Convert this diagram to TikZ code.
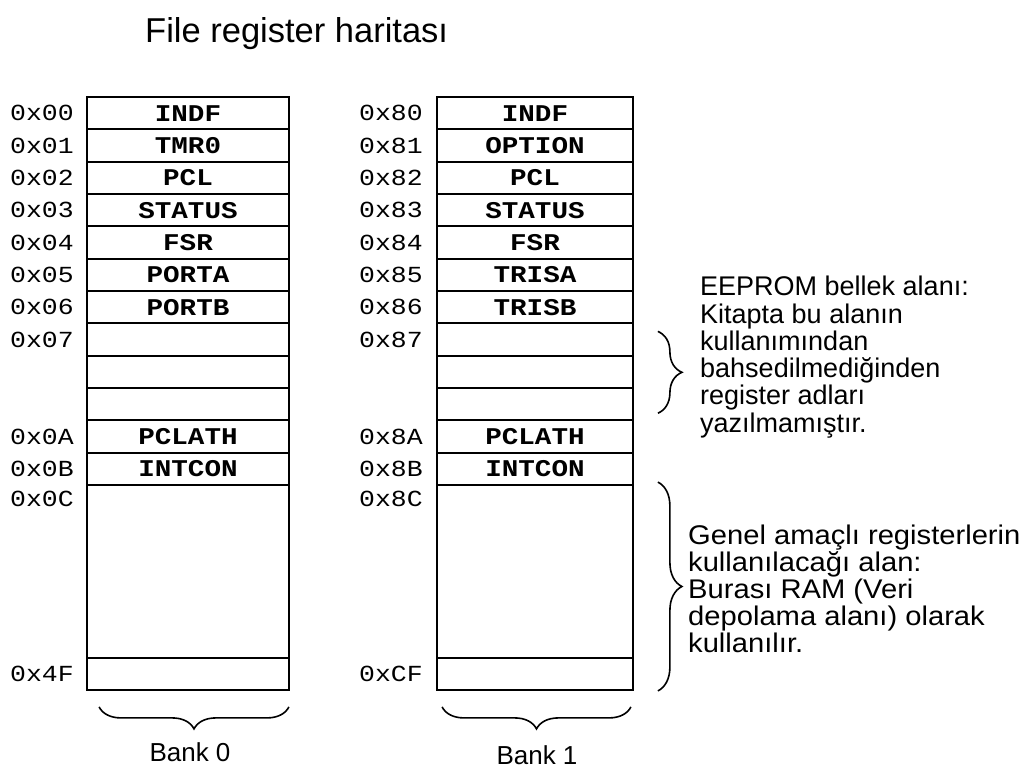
\documentclass[tikz,border=0pt]{standalone}
\usepackage{fontspec}
\setmainfont{Liberation Sans}
\newfontfamily\regfont[FakeStretch=1.15]{Liberation Mono}
\newfontfamily\widesans[FakeStretch=1.08]{Liberation Sans}
\usetikzlibrary{decorations.pathreplacing,calc}
\begin{document}
\begin{tikzpicture}[x=1pt,y=-1pt,
  cell/.style={draw, line width=1.8pt, inner sep=0pt, minimum height=32.33pt,
    font=\regfont\bfseries\fontsize{24}{24}\selectfont},
  addr/.style={anchor=west, inner sep=0pt, font=\regfont\fontsize{23}{23}\selectfont},
  note/.style={anchor=north west, align=left, inner sep=0pt, font=\fontsize{27}{27.3}\selectfont},
  bankbrace/.style={decorate, line width=1.6pt, decoration={brace, mirror, amplitude=22pt}},
  sidebrace/.style={decorate, line width=1.6pt, decoration={brace, amplitude=24pt}},
  banklabel/.style={inner sep=0pt, font=\fontsize{26}{26}\selectfont}
]
\useasboundingbox (0,0) rectangle (1034,774);

% title
\node[anchor=base west, inner sep=0pt, font=\fontsize{34.5}{34.5}\selectfont] (title) at (145,42) {File register haritası};

% Bank 0
\foreach \t [count=\i from 0] in {INDF,TMR0,PCL,STATUS,FSR,PORTA,PORTB,{},{},{},PCLATH,INTCON}
  \node[cell, minimum width=202pt] (a\i) at (188,{113.17+32.33*\i}) {\t};
\node[cell, minimum width=202pt, minimum height=173pt] (abig) at (188,571.5) {};
\node[cell, minimum width=202pt, minimum height=32pt] (alast) at (188,674) {};
\foreach \t/\i in {0x00/0,0x01/1,0x02/2,0x03/3,0x04/4,0x05/5,0x06/6,0x07/7,0x0A/10,0x0B/11}
  \node[addr] (aa\i) at (10,{113.17+32.33*\i}) {\t};
\node[addr] (aabig) at (10,499) {0x0C};
\node[addr] (aalast) at (10,674) {0x4F};

% Bank 1
\foreach \t [count=\i from 0] in {INDF,OPTION,PCL,STATUS,FSR,TRISA,TRISB,{},{},{},PCLATH,INTCON}
  \node[cell, minimum width=196pt] (b\i) at (535,{113.17+32.33*\i}) {\t};
\node[cell, minimum width=196pt, minimum height=173pt] (bbig) at (535,571.5) {};
\node[cell, minimum width=196pt, minimum height=32pt] (blast) at (535,674) {};
\foreach \t/\i in {0x80/0,0x81/1,0x82/2,0x83/3,0x84/4,0x85/5,0x86/6,0x87/7,0x8A/10,0x8B/11}
  \node[addr] (ba\i) at (359,{113.17+32.33*\i}) {\t};
\node[addr] (babig) at (359,499) {0x8C};
\node[addr] (balast) at (359,674) {0xCF};

% bottom braces and bank labels
\draw[bankbrace] ($(alast.south west)+(13,16)$) -- ($(alast.south east)+(-1,16)$);
\draw[bankbrace] ($(blast.south west)+(6,16)$) -- ($(blast.south east)+(-3,16)$);
\node[banklabel] (bank0) at (190,752) {Bank 0};
\node[banklabel] (bank1) at (537,755) {Bank 1};

% side braces
\draw[sidebrace] ($(b7.north east)+(24,9)$) -- ($(b9.south east)+(24,-8)$);
\draw[sidebrace] ($(bbig.north east)+(24,-2)$) -- ($(blast.south east)+(24,0)$);

% notes
\node[note] (eeprom) at (700,276) {EEPROM bellek alanı:\\Kitapta bu alanın\\kullanımından\\bahsedilmediğinden\\register adları\\yazılmamıştır.};
\node[note, font=\widesans\fontsize{27}{27}\selectfont] (genel) at (688,525) {Genel amaçlı registerlerin\\kullanılacağı alan:\\Burası RAM (Veri\\depolama alanı) olarak\\kullanılır.};
\end{tikzpicture}
\end{document}
